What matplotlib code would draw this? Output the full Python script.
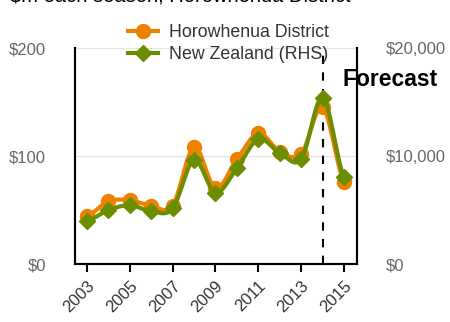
import numpy as np
import matplotlib
matplotlib.use("Agg")
import matplotlib.pyplot as plt
from matplotlib.ticker import FuncFormatter
from matplotlib.lines import Line2D

plt.rcParams['font.family'] = ['Liberation Sans', 'DejaVu Sans']

years = [2003, 2004, 2005, 2006, 2007, 2008, 2009, 2010, 2011, 2012, 2013, 2014, 2015]
horowhenua = [44, 58, 59, 54, 54, 108, 70, 97, 121, 104, 102, 145, 76]
new_zealand = [3970, 4980, 5440, 4890, 5140, 9630, 6600, 8870, 11560, 10280, 9720, 15390, 8050]
forecast_year = 2014
title = "$m each season, Horowhenua District"
series_names = ["Horowhenua District", "New Zealand (RHS)"]

orange = "#F08000"
green = "#6B8E00"


def smooth(x, y, n=20):
    x = np.asarray(x, float)
    y = np.asarray(y, float)
    xs, ys = [], []
    for i in range(len(x) - 1):
        p0 = y[i - 1] if i > 0 else y[i]
        p1, p2 = y[i], y[i + 1]
        p3 = y[i + 2] if i + 2 < len(y) else y[i + 1]
        t = np.linspace(0, 1, n, endpoint=False)
        yy = 0.5 * ((2 * p1) + (-p0 + p2) * t + (2 * p0 - 5 * p1 + 4 * p2 - p3) * t ** 2
                    + (-p0 + 3 * p1 - 3 * p2 + p3) * t ** 3)
        xs.append(x[i] + (x[i + 1] - x[i]) * t)
        ys.append(yy)
    xs.append([x[-1]])
    ys.append([y[-1]])
    return np.concatenate(xs), np.concatenate(ys)


fig = plt.figure(figsize=(4.5, 3.22), dpi=100)
ax = fig.add_axes([75 / 450, 1 - 264 / 322, (357 - 75) / 450, (264 - 48) / 322])
ax2 = ax.twinx()

ax.set_xlim(2002.45, 2015.6)
ax.set_ylim(0, 200)
ax2.set_ylim(0, 20000)

ax.set_yticks([0, 100, 200])
ax2.set_yticks([0, 10000, 20000])
ax.yaxis.set_major_formatter(FuncFormatter(lambda v, p: f"${v:,.0f}"))
ax2.yaxis.set_major_formatter(FuncFormatter(lambda v, p: f"${v:,.0f}"))
ax.grid(axis='y', color='#e6e6e6', linewidth=1)
ax.set_axisbelow(True)

ax.set_xticks(years[::2])
ax.set_xticklabels([str(y) for y in years[::2]], rotation=45, ha='right',
                   rotation_mode='anchor', color='#333333', fontsize=12)
ax.tick_params(axis='x', direction='out', length=6, width=1.5, color='black', pad=4)
ax.tick_params(axis='y', length=0, pad=21, labelsize=12, labelcolor='#666666')
ax2.tick_params(axis='y', length=0, pad=21, labelsize=12, labelcolor='#666666')

for a in (ax, ax2):
    a.spines['top'].set_visible(False)
    for s in ('left', 'right', 'bottom'):
        a.spines[s].set_linewidth(1.5)
        a.spines[s].set_color('black')

ax.axvline(forecast_year, color='black', linestyle=(0, (4, 4)), linewidth=1.5, zorder=1)

sx, sy = smooth(years, horowhenua)
ax.plot(sx, sy, color=orange, linewidth=3, zorder=3)
ax.plot(years, horowhenua, 'o', color=orange, markersize=10, zorder=3)
ax.set_zorder(ax2.get_zorder() - 1)
ax.patch.set_visible(True)
ax2.patch.set_visible(False)

gx, gy = smooth(years, new_zealand)
ax2.plot(gx, gy, color=green, linewidth=3, zorder=4)
ax2.plot(years, new_zealand, 'D', color=green, markersize=8, zorder=4)

fig.text(343 / 450, 1 - 80 / 322, "Forecast", fontsize=16.5, fontweight='bold',
         va='center', ha='left', color='black')

fig.text(10 / 450, 1 - 2 / 322, title, fontsize=14.5, va='baseline', ha='left', color='black')

handles = [
    Line2D([], [], color=orange, linewidth=3, marker='o', markersize=10),
    Line2D([], [], color=green, linewidth=3, marker='D', markersize=8),
]
fig.legend(handles, series_names, loc='upper center', bbox_to_anchor=(228 / 450, 1 - 15 / 322),
           frameon=False, fontsize=12.8, handlelength=1.7, labelspacing=0.3,
           handletextpad=0.6, borderpad=0, labelcolor='#333333')

fig.savefig("out.png", dpi=100)
